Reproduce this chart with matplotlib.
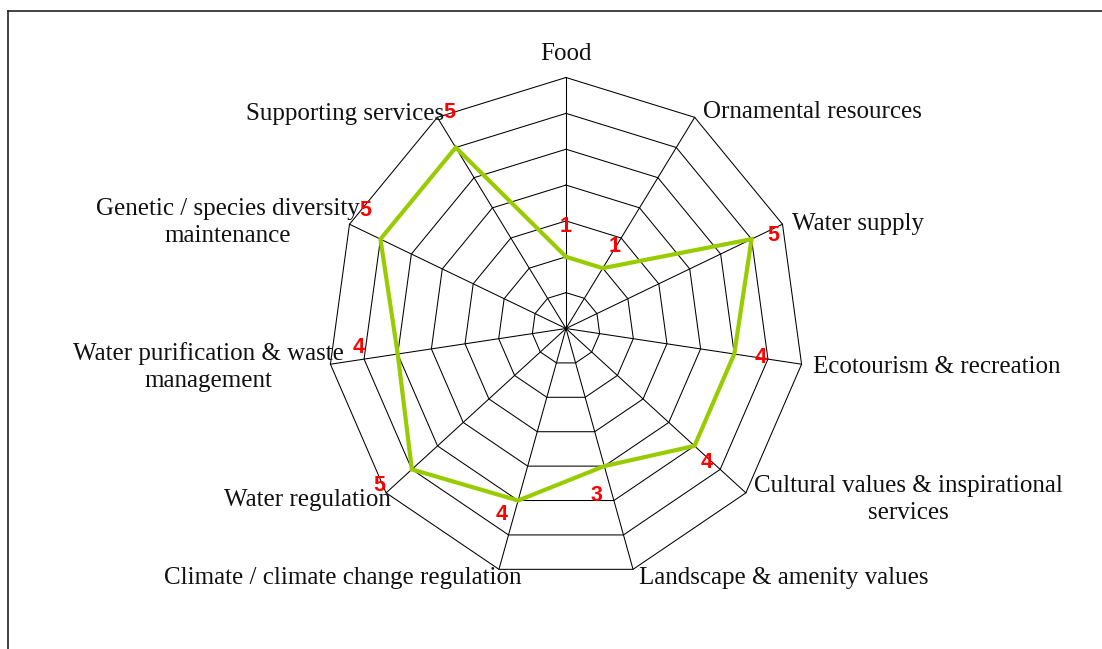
import numpy as np
import matplotlib

matplotlib.use("Agg")
import matplotlib.pyplot as plt
from matplotlib.lines import Line2D

categories = [
    "Food",
    "Ornamental resources",
    "Water supply",
    "Ecotourism & recreation",
    "Cultural values & inspirational\nservices",
    "Landscape & amenity values",
    "Climate / climate change regulation",
    "Water regulation",
    "Water purification & waste\nmanagement",
    "Genetic / species diversity\nmaintenance",
    "Supporting services",
]
scores = [1, 1, 5, 4, 4, 3, 4, 5, 4, 5, 5]
axis_min, axis_max = -1, 6
ring_levels = list(range(axis_min, axis_max + 1))

# layout (pixels of the 1102x649 output)
W, H = 1102, 649
CX, CY = 566, 328.5
RX, RY = 238, 251  # the source picture is a bit squeezed horizontally

# category label nudges from the outer vertex: dx, dy (px, y up), alignment
cat_offsets = [
    (0, 24, "center"),
    (8, 5, "left"),
    (10, 0, "left"),
    (11, -3, "left"),
    (8, -7, "left"),
    (6, -9, "left"),
    (23, -9, "right"),
    (5, -7, "right"),
    (13, -3, "right"),
    (10, 2, "right"),
    (7, 3, "right"),
]
# value label nudges from the data point (px, y up)
val_offsets = [
    (0, 30), (12, 22), (22, 4), (26, -3), (12, -17), (-8, -29),
    (-16, -14), (-33, -16), (-39, 7), (-15, 29), (-6, 35),
]

n = len(categories)
span = axis_max - axis_min
ux, uy = RX / span, RY / span
angles = np.pi / 2 - 2 * np.pi * np.arange(n) / n


def to_xy(vals):
    r = np.asarray(vals, dtype=float) - axis_min
    return r * np.cos(angles), r * np.sin(angles)


fig = plt.figure(figsize=(W / 100, H / 100), dpi=100)
ax = fig.add_axes([0, 0, 1, 1])
ax.set_xlim(-CX / ux, (W - CX) / ux)
ax.set_ylim(-(H - CY) / uy, CY / uy)
ax.axis("off")

# web grid
for lvl in ring_levels[1:]:
    gx, gy = to_xy([lvl] * n)
    ax.plot(np.append(gx, gx[0]), np.append(gy, gy[0]), color="black", lw=0.75, zorder=1)
ox, oy = to_xy([axis_max] * n)
cx0, cy0 = to_xy([axis_min] * n)
for i in range(n):
    ax.plot([cx0[i], ox[i]], [cy0[i], oy[i]], color="black", lw=0.75, zorder=1)

# series
px, py = to_xy(scores)
ax.plot(np.append(px, px[0]), np.append(py, py[0]), color="#99CC00", lw=3, zorder=3,
        solid_joinstyle="miter")

# category labels
for i, label in enumerate(categories):
    dx, dy, ha = cat_offsets[i]
    ax.annotate(label, xy=(ox[i], oy[i]), xytext=(dx, dy), textcoords="offset pixels",
                ha=ha, va="center", multialignment="center", linespacing=1.3,
                fontsize=18, family="Liberation Serif", color="#111111")

# value labels
for i, v in enumerate(scores):
    dx, dy = val_offsets[i]
    ax.annotate(str(v), xy=(px[i], py[i]), xytext=(dx, dy), textcoords="offset pixels",
                ha="center", va="center", fontsize=15.5, fontweight="bold",
                family="Liberation Sans", color="#FF0000", zorder=4)

# frame of the source figure
fig.add_artist(Line2D([8 / W, 1], [1 - 11 / H, 1 - 11 / H], color="#222222", lw=1.2))
fig.add_artist(Line2D([8 / W, 8 / W], [0, 1 - 11 / H], color="#222222", lw=1.2))

fig.savefig("out.png", dpi=100)
plt.close(fig)
